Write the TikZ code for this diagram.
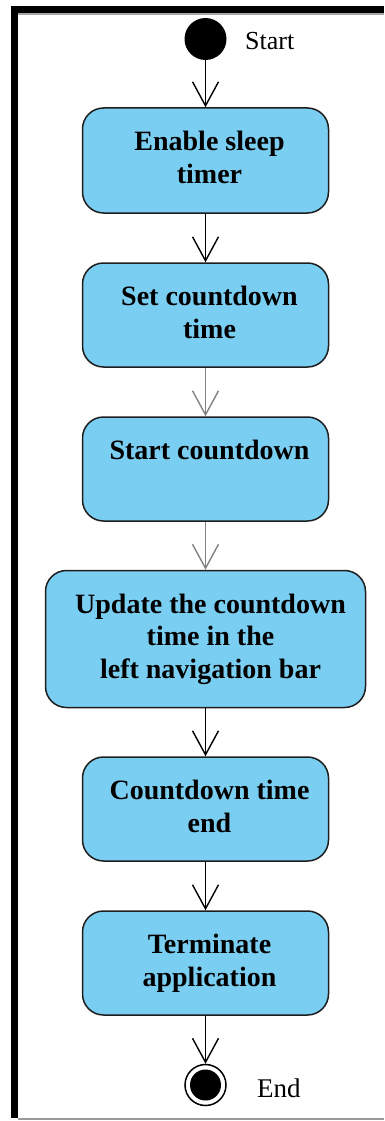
\documentclass[tikz,border=0pt]{standalone}
\usepackage{fontspec}
\setmainfont{Liberation Serif}
\newfontfamily\actfont{Liberation Serif Bold}
\usetikzlibrary{arrows.meta}
\definecolor{boxfill}{RGB}{122,206,242}
\definecolor{boxline}{RGB}{30,30,30}
\definecolor{flowgray}{RGB}{130,130,130}
\tikzset{
  actbox/.style={draw=boxline, line width=1.5pt, fill=boxfill, rounded corners=21pt, inner sep=0pt},
  acttext/.style={anchor=north, align=center, inner sep=0pt, font=\actfont\fontsize{28}{32.5}\selectfont, text=black},
  flow/.style={line width=1.4pt, -{Straight Barb[length=24pt,width=26pt,line width=1.4pt]}},
  grayflow/.style={flow, draw=flowgray},
  lbl/.style={inner sep=0pt, font=\fontsize{26}{30}\selectfont}
}
\begin{document}
\begin{tikzpicture}[x=1pt,y=-1pt]
\useasboundingbox (0,0) rectangle (384,1121);
% frame
\fill[black] (11,6) rectangle (384,13.5);
\fill[gray!70] (18,13.5) rectangle (384,15);
\fill[black] (11,6) rectangle (18,1118);
\fill[gray!80] (18,1118) rectangle (384,1120);
% start
\node[circle, fill=black, minimum size=42pt, inner sep=0pt] (start) at (205.5,39) {};
\node[lbl, anchor=base west] (startlbl) at (245,50) {Start};
% boxes
\node[actbox, minimum width=246pt, minimum height=105pt] (b1) at (205.5,160.5) {};
\node[actbox, minimum width=246pt, minimum height=104pt] (b2) at (205.5,315) {};
\node[actbox, minimum width=246pt, minimum height=104pt] (b3) at (205.5,469) {};
\node[actbox, minimum width=320pt, minimum height=137pt] (b4) at (205.5,639) {};
\node[actbox, minimum width=246pt, minimum height=104pt] (b5) at (205.5,809) {};
\node[actbox, minimum width=246pt, minimum height=104pt] (b6) at (205.5,963) {};
% texts
\node[acttext] (t1) at ([xshift=4pt,yshift=-24pt]b1.north) {Enable sleep\\timer};
\node[acttext] (t2) at ([xshift=4pt,yshift=-24pt]b2.north) {Set countdown\\time};
\node[acttext] (t3) at ([xshift=4pt,yshift=-24pt]b3.north) {Start countdown};
\node[acttext] (t4) at ([xshift=5pt,yshift=-24pt]b4.north) {Update the countdown\\time in the\\left navigation bar};
\node[acttext] (t5) at ([xshift=4pt,yshift=-24pt]b5.north) {Countdown time\\end};
\node[acttext] (t6) at ([xshift=4pt,yshift=-24pt]b6.north) {Terminate\\application};
% end
\node[circle, draw=black, line width=1.5pt, fill=white, minimum size=41pt, inner sep=0pt] (endo) at (205.5,1085) {};
\node[circle, fill=black, minimum size=31pt, inner sep=0pt] (endi) at (205.5,1085) {};
\node[lbl, anchor=base west, font=\fontsize{27}{30}\selectfont] (endlbl) at (257,1097) {End};
% flows
\draw[flow] (start.south) -- (b1.north);
\draw[flow] (b1.south) -- (b2.north);
\draw[grayflow] (b2.south) -- (b3.north);
\draw[grayflow] (b3.south) -- (b4.north);
\draw[flow] (b4.south) -- (b5.north);
\draw[flow] (b5.south) -- (b6.north);
\draw[flow] (b6.south) -- (endo.north);
\end{tikzpicture}
\end{document}
